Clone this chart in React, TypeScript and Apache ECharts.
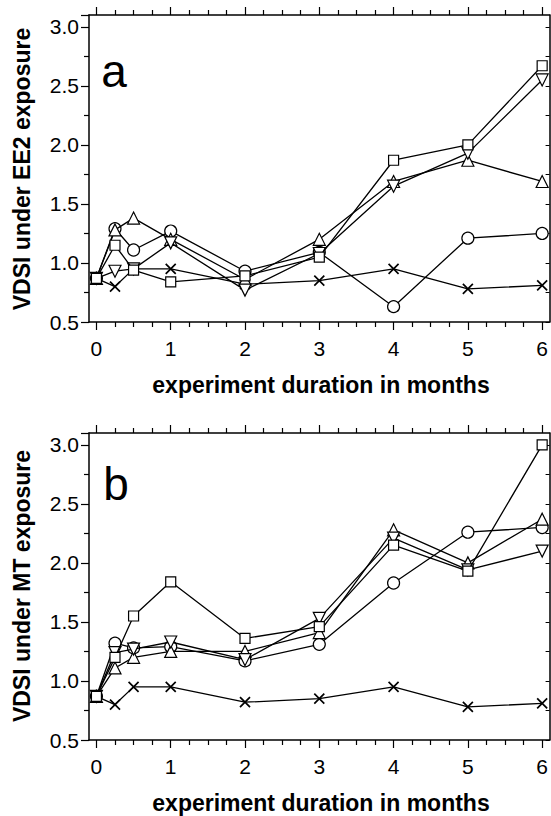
import React, { useEffect, useRef } from "react";
import * as echarts from "echarts";

// ---- data ----
const months = [0, 0.25, 0.5, 1, 2, 3, 4, 5, 6];
const majorTicksX = [0, 1, 2, 3, 4, 5, 6];
const minorTicksX = [0.25, 0.5, 0.75, 1.25, 1.5, 1.75, 2.25, 2.5, 2.75, 3.25, 3.5, 3.75, 4.25, 4.5, 4.75, 5.25, 5.5, 5.75];
const rightTicksY = [0.5, 0.75, 1, 1.25, 1.5, 1.75, 2, 2.25, 2.5, 2.75, 3];

// Panel a: EE2 exposure
const ee2Circle = [0.87, 1.29, 1.11, 1.27, 0.93, 1.09, 0.63, 1.21, 1.25];
const ee2Square = [0.87, 1.15, 0.94, 0.84, 0.89, 1.05, 1.87, 2.0, 2.67];
const ee2TriUp = [0.87, 1.28, 1.38, 1.2, 0.86, 1.2, 1.69, 1.87, 1.69];
const ee2TriDown = [0.87, 0.93, 0.95, 1.17, 0.77, 1.08, 1.65, 1.93, 2.55];
const ee2Cross = [0.87, 0.8, 0.95, 0.95, 0.82, 0.85, 0.95, 0.78, 0.81];

// Panel b: MT exposure
const mtCircle = [0.87, 1.32, 1.28, 1.29, 1.17, 1.31, 1.83, 2.26, 2.3];
const mtSquare = [0.87, 1.2, 1.55, 1.84, 1.36, 1.46, 2.15, 1.93, 3.0];
const mtTriUp = [0.87, 1.11, 1.2, 1.25, 1.25, 1.41, 2.28, 2.0, 2.37];
const mtTriDown = [0.87, 1.24, 1.27, 1.33, 1.18, 1.53, 2.21, 1.94, 2.1];
const mtCross = [0.87, 0.8, 0.95, 0.95, 0.82, 0.85, 0.95, 0.78, 0.81];

const FONT = "Liberation Sans, Arial, sans-serif";
const CROSS = "path://M0 0L10 10M10 0L0 10";

function pairs(ys: number[]) {
  return months.map((m, i) => [m, ys[i]]);
}

export default function App() {
  const ref = useRef<HTMLDivElement>(null);
  useEffect(() => {
    if (!ref.current) return;
    const chart = echarts.init(ref.current, undefined, { renderer: "svg" });

    const grids = [
      { left: 89, top: 15, width: 466, height: 307 },
      { left: 89, top: 433, width: 461, height: 307 },
    ];

    const xAxes: any[] = [];
    const yAxes: any[] = [];
    const series: any[] = [];

    grids.forEach((_, gi) => {
      const base = { type: "value", gridIndex: gi, min: -0.1, max: 6.1, splitLine: { show: false } };
      xAxes.push({
        ...base,
        position: "bottom",
        axisLine: { show: true, onZero: false, lineStyle: { color: "#000", width: 1.5 } },
        axisTick: { show: true, customValues: majorTicksX, length: 8, lineStyle: { color: "#000", width: 1.2 } },
        axisLabel: { show: true, customValues: majorTicksX, margin: 16, fontSize: 21, color: "#000", fontFamily: FONT },
      });
      xAxes.push({
        ...base,
        position: "bottom",
        axisLine: { show: false, onZero: false },
        axisTick: { show: true, customValues: minorTicksX, length: 5, lineStyle: { color: "#000", width: 1.2 } },
        axisLabel: { show: false },
      });
      xAxes.push({
        ...base,
        position: "top",
        axisLine: { show: true, onZero: false, lineStyle: { color: "#000", width: 1.5 } },
        axisTick: { show: true, customValues: majorTicksX, length: 8, lineStyle: { color: "#000", width: 1.2 } },
        axisLabel: { show: false },
      });
      xAxes.push({
        ...base,
        position: "top",
        axisLine: { show: false, onZero: false },
        axisTick: { show: true, customValues: minorTicksX, length: 5, lineStyle: { color: "#000", width: 1.2 } },
        axisLabel: { show: false },
      });

      const ybase = { type: "value", gridIndex: gi, min: 0.5, max: 3.1, interval: 0.5, splitLine: { show: false } };
      yAxes.push({
        ...ybase,
        position: "left",
        axisLine: { show: true, onZero: false, lineStyle: { color: "#000", width: 1.5 } },
        axisTick: { show: true, length: 8, lineStyle: { color: "#000", width: 1.2 } },
        minorTick: { show: true, splitNumber: 2, length: 5, lineStyle: { color: "#000", width: 1.2 } },
        axisLabel: {
          show: true,
          margin: 10,
          fontSize: 21,
          color: "#000",
          fontFamily: FONT,
          formatter: (v: number) => v.toFixed(1),
        },
      });
      yAxes.push({
        ...ybase,
        position: "right",
        axisLine: { show: true, onZero: false, lineStyle: { color: "#000", width: 1.5 } },
        axisTick: { show: true, inside: true, customValues: rightTicksY, length: 4, lineStyle: { color: "#000", width: 1 } },
        axisLabel: { show: false },
      });
    });

    const panelData = [
      [ee2Cross, ee2Circle, ee2TriUp, ee2TriDown, ee2Square],
      [mtCross, mtCircle, mtTriUp, mtTriDown, mtSquare],
    ];
    const symbols = [
      { symbol: CROSS, size: 10, rotate: 0, bw: 1.7 },
      { symbol: "circle", size: 12, rotate: 0, bw: 1.2 },
      { symbol: "triangle", size: 12, rotate: 0, bw: 1.2 },
      { symbol: "triangle", size: 12, rotate: 180, bw: 1.2 },
      { symbol: "rect", size: 10, rotate: 0, bw: 1.2 },
    ];

    panelData.forEach((sets, gi) => {
      sets.forEach((ys, si) => {
        const s = symbols[si];
        series.push({
          type: "line",
          xAxisIndex: gi * 4,
          yAxisIndex: gi * 2,
          data: pairs(ys),
          symbol: s.symbol,
          symbolSize: s.size,
          symbolRotate: s.rotate,
          showAllSymbol: true,
          lineStyle: { color: "#000", width: 1.3 },
          itemStyle: { color: "#fff", borderColor: "#000", borderWidth: s.bw },
          emphasis: { disabled: true },
          z: 3 + si,
        });
      });
    });

    const titleStyle = { fontSize: 23, fontWeight: "bold", fontFamily: FONT, fill: "#000" };

    chart.setOption({
      animation: false,
      backgroundColor: "#fff",
      grid: grids,
      xAxis: xAxes,
      yAxis: yAxes,
      series,
      graphic: [
        { type: "text", x: 114, y: 71, style: { text: "a", fontSize: 46, fontFamily: FONT, fill: "#000", align: "center", verticalAlign: "middle" } },
        { type: "text", x: 116, y: 484, style: { text: "b", fontSize: 46, fontFamily: FONT, fill: "#000", align: "center", verticalAlign: "middle" } },
        { type: "text", x: 22, y: 169, rotation: Math.PI / 2, style: { ...titleStyle, text: "VDSI under EE2 exposure", align: "center", verticalAlign: "middle" } },
        { type: "text", x: 22, y: 586, rotation: Math.PI / 2, style: { ...titleStyle, text: "VDSI under MT exposure", align: "center", verticalAlign: "middle" } },
        { type: "text", x: 321, y: 385, style: { ...titleStyle, text: "experiment duration in months", align: "center", verticalAlign: "middle" } },
        { type: "text", x: 321, y: 803, style: { ...titleStyle, text: "experiment duration in months", align: "center", verticalAlign: "middle" } },
      ],
    });
    return () => chart.dispose();
  }, []);

  return <div ref={ref} style={{ position: "absolute", left: 0, top: 0, width: 551, height: 816 }} />;
}
